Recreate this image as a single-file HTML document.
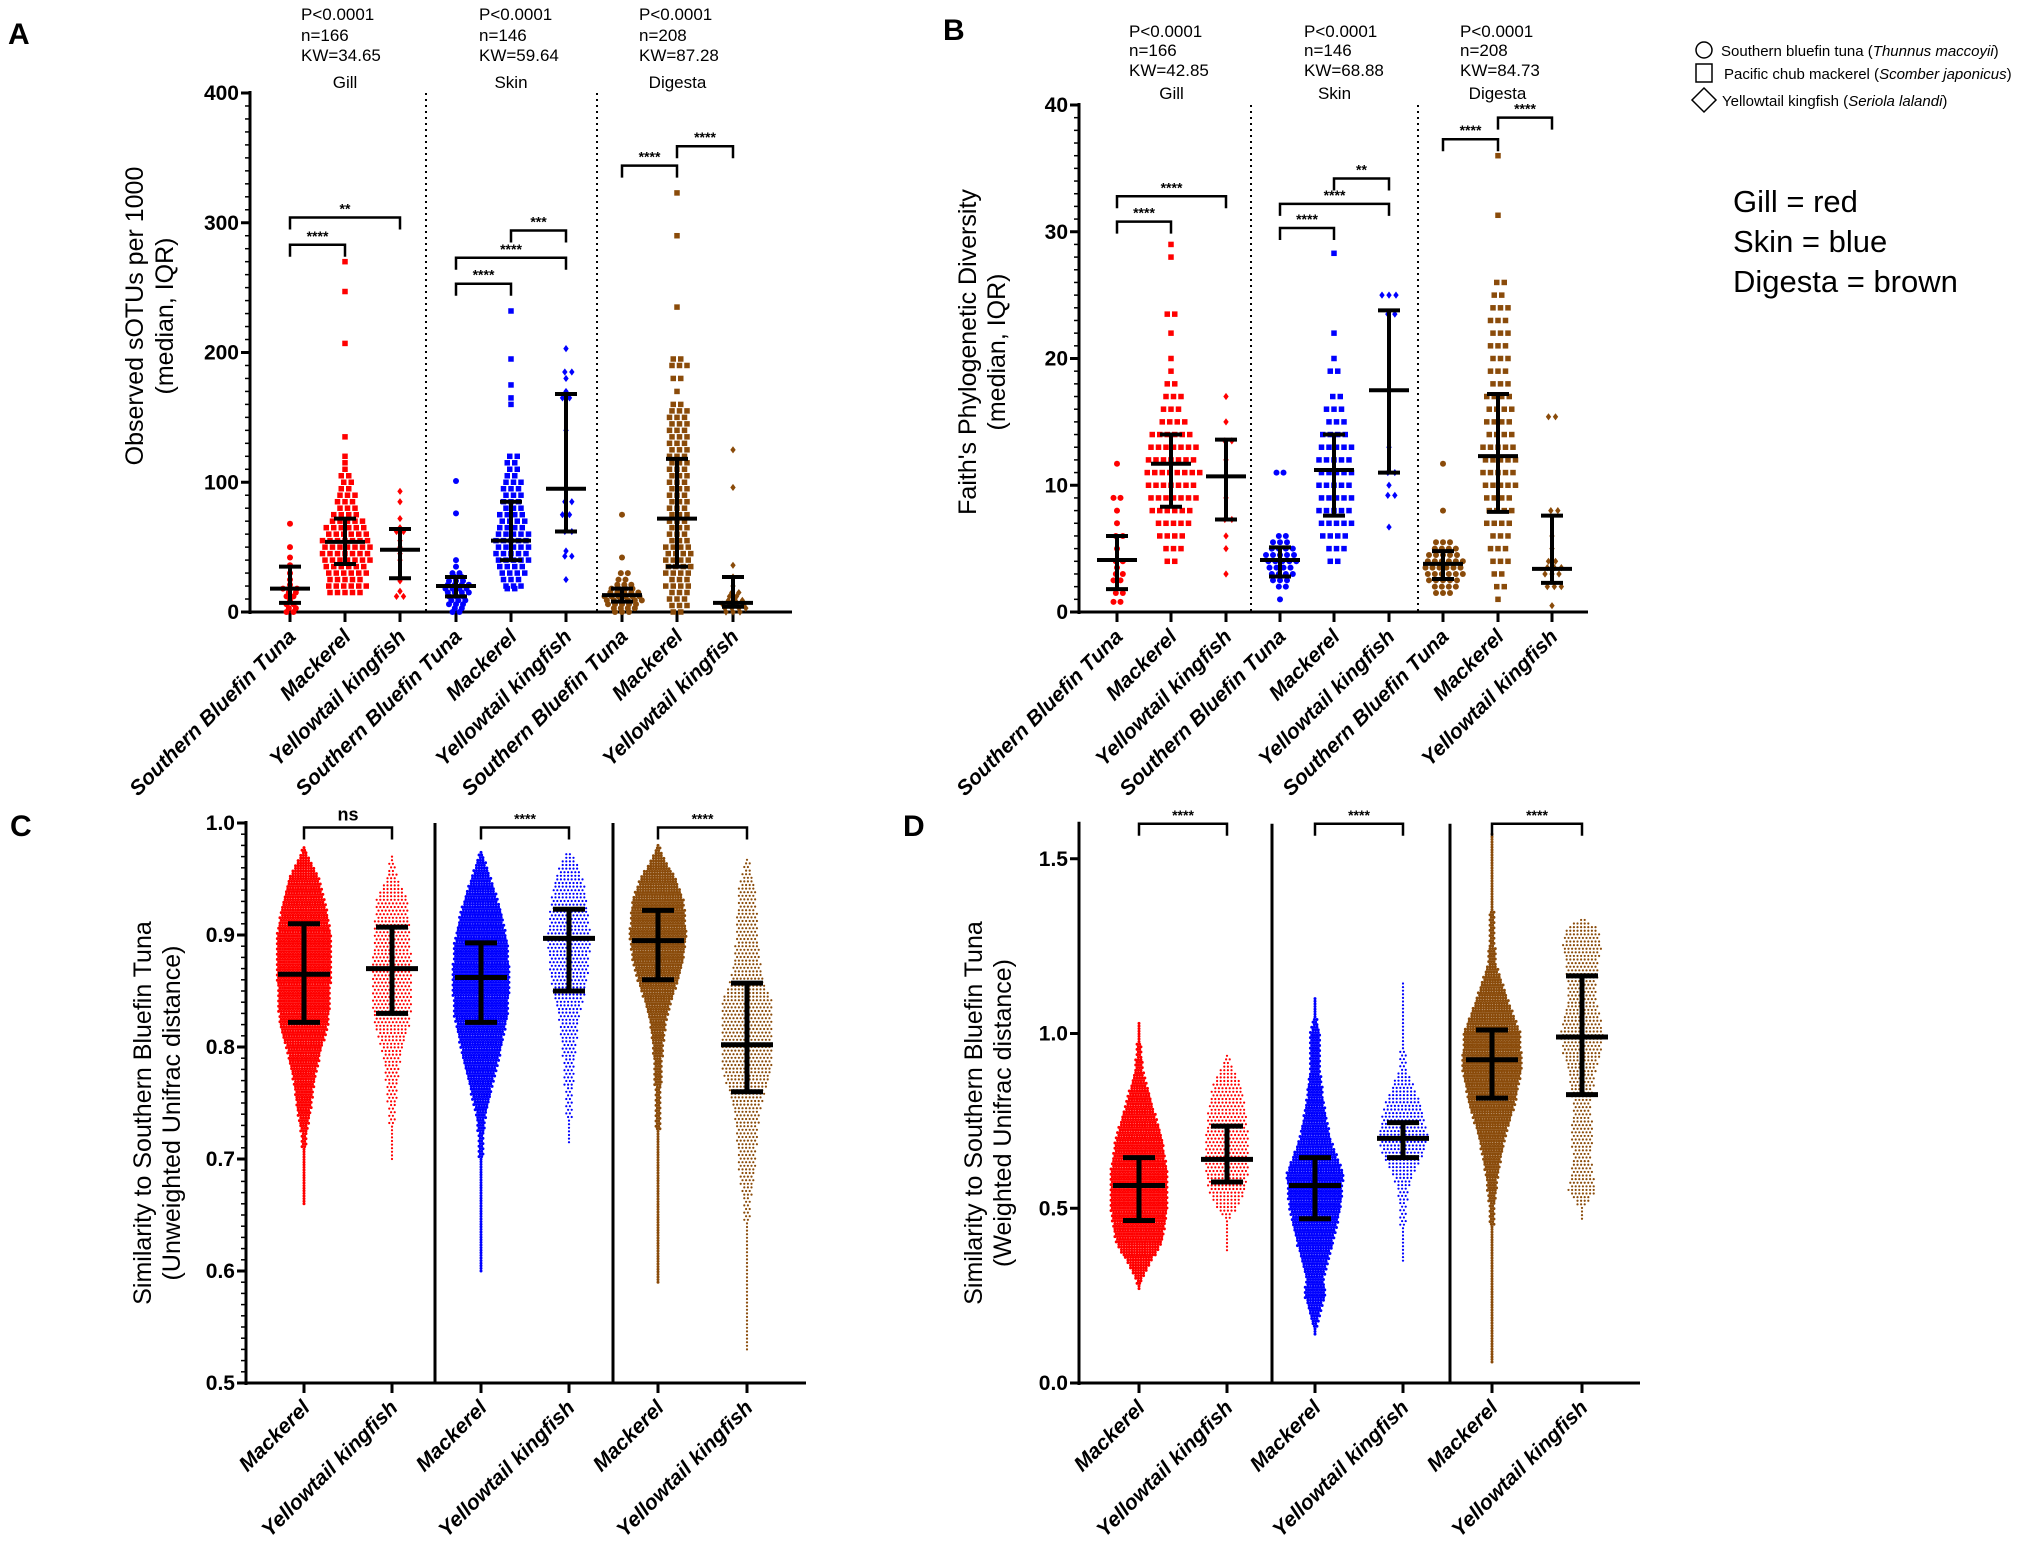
<!DOCTYPE html>
<html><head><meta charset="utf-8"><style>
body{margin:0;background:#fff}
svg{display:block}
text{font-family:"Liberation Sans Narrow","Liberation Sans",sans-serif}
.tk{font-weight:bold;font-size:21px}
.xl{font-weight:bold;font-style:italic;font-size:21px}
.st{font-size:17px}
.yt{font-family:"Liberation Sans",sans-serif;font-size:25px}
.pl{font-family:"Liberation Sans",sans-serif;font-weight:bold;font-size:30px}
</style></head><body>
<svg id="fig" width="2017" height="1547" viewBox="0 0 2017 1547" xmlns="http://www.w3.org/2000/svg">
<text class="pl" x="8" y="44">A</text>
<text class="pl" x="943" y="40">B</text>
<text class="pl" x="10" y="836">C</text>
<text class="pl" x="903" y="836">D</text>
<text class="yt" text-anchor="middle" transform="translate(143,316) rotate(-90)">Observed sOTUs per 1000</text>
<text class="yt" text-anchor="middle" transform="translate(173,316) rotate(-90)">(median, IQR)</text>
<text class="yt" text-anchor="middle" transform="translate(976,352) rotate(-90)">Faith's Phylogenetic Diversity</text>
<text class="yt" text-anchor="middle" transform="translate(1005,352) rotate(-90)">(median, IQR)</text>
<text class="yt" text-anchor="middle" transform="translate(151,1113) rotate(-90)">Similarity to Southern Bluefin Tuna</text>
<text class="yt" text-anchor="middle" transform="translate(180,1113) rotate(-90)">(Unweighted Unifrac distance)</text>
<text class="yt" text-anchor="middle" transform="translate(982,1113) rotate(-90)">Similarity to Southern Bluefin Tuna</text>
<text class="yt" text-anchor="middle" transform="translate(1011,1113) rotate(-90)">(Weighted Unifrac distance)</text>
<g>
<circle cx="1704" cy="50" r="8" fill="none" stroke="#000" stroke-width="1.5"/>
<text x="1721" y="56" style="font-size:15px">Southern bluefin tuna (<tspan font-style="italic">Thunnus maccoyii</tspan>)</text>
<rect x="1696" y="64" width="16" height="18" fill="none" stroke="#000" stroke-width="1.5"/>
<text x="1724" y="79" style="font-size:15px">Pacific chub mackerel (<tspan font-style="italic">Scomber japonicus</tspan>)</text>
<polygon points="1704,88 1716,100 1704,112 1692,100" fill="none" stroke="#000" stroke-width="1.5"/>
<text x="1722" y="106" style="font-size:15px">Yellowtail kingfish (<tspan font-style="italic">Seriola lalandi</tspan>)</text>
<text x="1733" y="212" style="font-family:'Liberation Sans',sans-serif;font-size:31px">Gill = red</text>
<text x="1733" y="252" style="font-family:'Liberation Sans',sans-serif;font-size:31px">Skin = blue</text>
<text x="1733" y="292" style="font-family:'Liberation Sans',sans-serif;font-size:31px">Digesta = brown</text>
</g>
</svg>
<script>
const NS="http://www.w3.org/2000/svg";
const svg=document.getElementById('fig');
function el(t,a,p){const e=document.createElementNS(NS,t);for(const k in a)e.setAttribute(k,a[k]);(p||svg).appendChild(e);return e;}
const RED="#ff0000",BLUE="#0000ff",BROWN="#8a4b0a";

// ---------- Panel A data ----------
const aCats=["Southern Bluefin Tuna","Mackerel","Yellowtail kingfish","Southern Bluefin Tuna","Mackerel","Yellowtail kingfish","Southern Bluefin Tuna","Mackerel","Yellowtail kingfish"];
const aTicks=[0,100,200,300,400];
const aMedian=[18,54,48,20,55,95,13,72,7];
const aQ1=[7,37,26,12,40,62,8,35,4];
const aQ3=[35,72,64,27,85,168,18,118,27];
const aVals=[
[0,3,6,9,12,15,18,21,25,30,36,42,50,68],
[15,20,25,30,35,40,45,50,55,60,65,70,75,80,85,90,95,100,105,110,115,120,135,207,247,270],
[12,16,24,27,40,45,50,55,62,65,72,85,93],
[0,3,6,9,12,15,18,21,24,27,30,35,40,76,101],
[18,20,25,30,35,40,45,50,55,60,65,70,75,80,85,90,95,100,105,110,115,120,160,165,175,195,232],
[25,43,47,62,75,85,95,140,165,170,180,185,203],
[0,3,6,9,12,15,18,21,25,30,42,75],
[0,5,10,15,20,25,30,35,40,45,50,55,60,65,70,75,80,85,90,95,100,105,110,115,120,125,130,135,140,145,150,155,160,170,180,190,195,235,290,323],
[0,3,6,9,12,15,20,27,36,96,125]];
const aCnts=[
[2,2,2,1,2,2,3,1,1,1,1,1,1,1],
[6,7,6,7,7,8,8,8,8,7,7,6,5,4,3,3,2,2,2,1,1,1,1,1,1,1],
[2,1,1,1,1,1,1,1,2,1,1,1,1],
[2,2,3,3,3,4,4,4,3,2,2,1,1,1,1],
[2,3,4,5,5,6,6,6,6,6,5,5,5,4,4,3,3,3,2,2,2,2,1,1,1,1,1],
[1,2,1,2,2,2,1,1,2,1,1,2,1],
[3,4,5,6,6,5,4,3,2,2,1,1],
[2,3,3,4,5,4,5,5,5,5,5,4,4,4,4,4,4,4,4,4,4,3,3,3,3,3,3,3,3,4,3,4,2,1,2,3,2,1,1,1],
[3,4,4,3,2,2,1,1,1,1,1]];
const aStats=[["P<0.0001","n=166","KW=34.65","Gill"],["P<0.0001","n=146","KW=59.64","Skin"],["P<0.0001","n=208","KW=87.28","Digesta"]];
const aBrackets=[[0,1,283,"****"],[0,2,304,"**"],[3,4,253,"****"],[3,5,273,"****"],[4,5,294,"***"],[6,7,344,"****"],[7,8,359,"****"]];

// ---------- Panel B data ----------
const bTicks=[0,10,20,30,40];
const bMedian=[4.1,11.7,10.7,4.1,11.2,17.5,3.8,12.3,3.4];
const bQ1=[1.8,8.3,7.3,2.8,7.6,11,2.6,7.9,2.3];
const bQ3=[6,14,13.6,5.1,14,23.8,4.8,17.2,7.6];
const bVals=[
[0.8,1.5,2.5,3,3.5,4,5,6,7,8,9,11.7],
[4,5,6,7,8,9,10,11,12,13,14,15,16,17,18,19,20,22,23.5,28,29],
[3,5,6,7.3,9,10.7,12,13.5,15,17],
[1,2,2.5,3,3.5,4,4.5,5,5.5,6,11],
[4,5,6,7,8,9,10,11,12,13,14,15,16,17,19,20,22,28.3],
[6.7,9.2,10,11,13,23.5,25],
[1.5,2,2.5,3,3.5,4,4.5,5,5.5,8,11.7],
[1,2,3,4,5,6,7,8,9,10,11,12,13,14,15,16,17,18,19,20,21,22,23,24,25,26,31.3,36],
[0.5,2,3,3.5,4,5,6,8,15.4]];
const bCnts=[
[2,2,2,2,1,2,1,2,1,1,2,1],
[2,4,5,6,7,8,8,9,8,8,7,5,4,3,2,1,1,1,2,1,1],
[1,1,1,2,1,1,1,2,1,1],
[1,2,3,4,4,5,5,4,3,2,2],
[2,3,5,6,6,6,6,6,6,6,5,4,3,2,2,1,1,1],
[1,2,1,2,1,2,3],
[3,4,5,6,6,6,5,4,3,1,1],
[1,2,2,3,3,4,5,5,5,6,6,6,6,5,5,5,5,4,4,4,3,3,3,3,2,2,1,1],
[1,3,3,3,2,1,1,2,2]];
const bStats=[["P<0.0001","n=166","KW=42.85","Gill"],["P<0.0001","n=146","KW=68.88","Skin"],["P<0.0001","n=208","KW=84.73","Digesta"]];
const bBrackets=[[0,1,30.8,"****"],[0,2,32.8,"****"],[3,4,30.3,"****"],[3,5,32.2,"****"],[4,5,34.2,"**"],[6,7,37.3,"****"],[7,8,39,"****"]];

// ---------- Panel C data ----------
const cdCats=["Mackerel","Yellowtail kingfish","Mackerel","Yellowtail kingfish","Mackerel","Yellowtail kingfish"];
const cTicks=[0.5,0.6,0.7,0.8,0.9,1.0];
const cMedian=[0.865,0.87,0.862,0.897,0.895,0.802];
const cQ1=[0.822,0.83,0.822,0.85,0.86,0.76];
const cQ3=[0.91,0.907,0.893,0.923,0.922,0.857];
const cVals=[
[0.66,0.70,0.72,0.74,0.76,0.78,0.80,0.82,0.84,0.87,0.90,0.92,0.95,0.97,0.98],
[0.70,0.72,0.74,0.76,0.78,0.80,0.82,0.84,0.87,0.90,0.93,0.95,0.97],
[0.60,0.66,0.68,0.72,0.74,0.76,0.78,0.80,0.83,0.86,0.89,0.92,0.95,0.97,0.975],
[0.715,0.72,0.75,0.78,0.80,0.83,0.85,0.87,0.90,0.93,0.95,0.97,0.975],
[0.59,0.65,0.70,0.75,0.78,0.80,0.82,0.84,0.86,0.88,0.90,0.93,0.95,0.97,0.98],
[0.53,0.55,0.60,0.63,0.66,0.68,0.70,0.72,0.74,0.76,0.78,0.80,0.82,0.84,0.86,0.88,0.90,0.94,0.96,0.97]];
const cCnts=[
[1,1,2,5,7,10,14,19,20,21,21,18,12,3,1],
[1,1,2,3,4,6,10,11,11,10,9,3,1],
[1,1,1,2,4,8,12,16,21,22,21,16,8,2,1],
[1,1,2,3,4,6,9,11,12,10,8,3,1],
[1,1,1,2,3,4,6,10,16,20,22,20,14,4,1],
[1,1,1,1,2,4,5,6,7,10,14,14,14,14,9,7,6,5,2,1]];
const cBrackets=[[0,1,0.996,"ns"],[2,3,0.996,"****"],[4,5,0.996,"****"]];

// ---------- Panel D data ----------
const dTicks=[0.0,0.5,1.0,1.5];
const dMedian=[0.565,0.64,0.565,0.70,0.925,0.99];
const dQ1=[0.465,0.575,0.47,0.645,0.815,0.825];
const dQ3=[0.645,0.735,0.645,0.745,1.01,1.165];
const dVals=[
[0.27,0.30,0.35,0.40,0.50,0.60,0.70,0.80,0.90,1.0,1.03],
[0.38,0.46,0.48,0.50,0.55,0.60,0.70,0.80,0.85,0.92,0.94],
[0.14,0.15,0.20,0.25,0.30,0.40,0.50,0.60,0.70,0.80,0.90,1.0,1.05,1.1],
[0.35,0.40,0.50,0.55,0.60,0.65,0.70,0.75,0.80,0.90,1.0,1.1,1.15],
[0.06,0.2,0.4,0.5,0.6,0.7,0.8,0.9,1.0,1.1,1.2,1.3,1.4,1.55,1.57],
[0.47,0.5,0.55,0.6,0.65,0.7,0.8,0.9,0.95,1.0,1.1,1.2,1.25,1.3,1.33]];
const dCnts=[
[1,3,10,18,22,22,18,10,3,1,1],
[1,1,3,6,10,12,12,10,8,2,1],
[1,1,4,8,7,14,20,22,12,7,4,4,1,1],
[1,1,2,3,6,11,14,12,10,2,1,1,1],
[1,1,1,2,5,10,18,23,22,12,3,2,1,1,1],
[1,1,8,6,5,6,5,8,11,12,8,9,11,9,1]];
const dBrackets=[[0,1,1.6,"****"],[2,3,1.6,"****"],[4,5,1.6,"****"]];

// ---------- helpers ----------
function axis(p){
  const g=el('g',{});
  
  
  el('line',{x1:p.x0,y1:p.y(p.top)-2,x2:p.x0,y2:p.y(p.min)+2,stroke:'#000','stroke-width':3},g);
  el('line',{x1:p.x0-2,y1:p.y(p.min),x2:p.xend,y2:p.y(p.min),stroke:'#000','stroke-width':3},g);
  if(p.minor){for(let v=p.min;v<=p.top+1e-9;v+=p.minor){el('line',{x1:p.x0-5,y1:p.y(v),x2:p.x0,y2:p.y(v),stroke:'#000','stroke-width':1.5},g);}}
  p.ticks.forEach(v=>{
    el('line',{x1:p.x0-9,y1:p.y(v),x2:p.x0,y2:p.y(v),stroke:'#000','stroke-width':3},g);
    const t=el('text',{class:'tk',x:p.x0-11,y:p.y(v)+7,'text-anchor':'end'},g);
    t.textContent=p.fmt(v);
    
    
  });
  p.cats.forEach((c,i)=>{
    const x=p.xs[i];
    el('line',{x1:x,y1:p.y(p.min),x2:x,y2:p.y(p.min)+10,stroke:'#000','stroke-width':3},g);
    const t=el('text',{class:'xl','text-anchor':'end',transform:`translate(${x+7},${p.y(p.min)+26}) rotate(-45)`},g);
    t.textContent=c;
    
    
  });
  p.divs.forEach(x=>{
    el('line',{x1:x,y1:p.y(p.top),x2:x,y2:p.y(p.min),stroke:'#000','stroke-width':p.dotted?2:3,'stroke-dasharray':p.dotted?'2,4':'none'},g);
  });
}
function marker(g,shape,x,y,s,col){
  let m;
  if(shape==='c')m=el('circle',{cx:x,cy:y,r:s/2,fill:col},g);
  else if(shape==='s')m=el('rect',{x:x-s/2,y:y-s/2,width:s,height:s,fill:col},g);
  else m=el('polygon',{points:`${x},${y-s*0.6} ${x+s*0.45},${y} ${x},${y+s*0.6} ${x-s*0.45},${y}`,fill:col},g);
  
  
}
function sparse(p,i,vals,cnts,shape,col,s,sp,thin){
  const g=el('g',{});
  
  
  vals.forEach((v,k)=>{const n=thin?Math.max(1,Math.round(cnts[k]*0.85)):cnts[k];for(let j=0;j<n;j++){marker(g,shape,p.xs[i]+(j-(n-1)/2)*sp+((k%2)&&n>1?sp/3:0),p.y(v),s,col);}});
}
function dense(p,i,vals,cnts,col,r,sp){
  const g=el('g',{});
  
  
  const yTop=p.y(vals[vals.length-1]),yBot=p.y(vals[0]);
  let row=0;
  for(let yy=yBot;yy>=yTop-0.1;yy-=sp){
    const v=p.inv(yy);
    let k=0;while(k<vals.length-2&&vals[k+1]<v)k++;
    const f=Math.max(0,Math.min(1,(v-vals[k])/(vals[k+1]-vals[k]||1)));
    const n=Math.max(1,Math.round(cnts[k]+(cnts[k+1]-cnts[k])*f));
    const off=(row%2)*sp/2;
    for(let j=0;j<n;j++){
      const c=el('circle',{cx:p.xs[i]+(j-(n-1)/2)*sp+(n>1?off-sp/4:0),cy:yy,r:r,fill:col},g);
      
      
    }
    row++;
  }
}
function errbar(p,i,med,q1,q3,mw,qw,sw){
  const g=el('g',{});
  
  
  const x=p.xs[i];
  el('line',{x1:x,y1:p.y(q1),x2:x,y2:p.y(q3),stroke:'#000','stroke-width':sw},g);
  el('line',{x1:x-qw/2,y1:p.y(q1),x2:x+qw/2,y2:p.y(q1),stroke:'#000','stroke-width':sw},g);
  el('line',{x1:x-qw/2,y1:p.y(q3),x2:x+qw/2,y2:p.y(q3),stroke:'#000','stroke-width':sw},g);
  el('line',{x1:x-mw/2,y1:p.y(med),x2:x+mw/2,y2:p.y(med),stroke:'#000','stroke-width':sw},g);
}
function bracket(p,b,leg){
  const g=el('g',{});
  
  
  const x1=p.xs[b[0]],x2=p.xs[b[1]],y=p.y(b[2]);
  el('polyline',{points:`${x1},${y+leg} ${x1},${y} ${x2},${y} ${x2},${y+leg}`,fill:'none',stroke:'#000','stroke-width':2.5},g);
  const t=el('text',{x:(x1+x2)/2,y:y-(b[3]==='ns'?7:4),'text-anchor':'middle',style:'font-size:'+(b[3]==='ns'?'18px':'14px')+';font-weight:bold'},g);
  t.textContent=b[3];
}
function stats(p,list,xs,ys){
  list.forEach((s,k)=>{
    for(let j=0;j<3;j++){const t=el('text',{class:'st',x:xs[k],y:ys[j]});t.textContent=s[j];
      
      }
    const t=el('text',{class:'st',x:(p.xs[k*3]+p.xs[k*3+2])/2,y:ys[3],'text-anchor':'middle'});t.textContent=s[3];
    
    
  });
}
const tcols=[RED,RED,RED,BLUE,BLUE,BLUE,BROWN,BROWN,BROWN];
const shapes=['c','s','d','c','s','d','c','s','d'];
const cdcols=[RED,RED,BLUE,BLUE,BROWN,BROWN];

// Panel A
const pA={name:'panel-a',x0:250,xend:792,min:0,top:400,minor:10,ticks:aTicks,fmt:v=>String(v),cats:aCats,
  xs:[290,345,400,456,511,566,622,677,733],divs:[426,597],dotted:true,
  y:v=>612-v*(519/400),inv:yy=>(612-yy)/(519/400)};
axis(pA);
aVals.forEach((v,i)=>sparse(pA,i,v,aCnts[i],shapes[i],tcols[i],i%3===1?5.5:6,i%3===1?7.5:7,i%3===1));
aMedian.forEach((m,i)=>errbar(pA,i,m,aQ1[i],aQ3[i],40,22,4));
aBrackets.forEach(b=>bracket(pA,b,12));
stats(pA,aStats,[301,479,639],[20,41,61,88]);

// Panel B
const pB={name:'panel-b',x0:1079,xend:1588,min:0,top:40,minor:1,ticks:bTicks,fmt:v=>String(v),cats:aCats,
  xs:[1117,1171,1226,1280,1334,1389,1443,1498,1552],divs:[1251,1418],dotted:true,
  y:v=>612-v*(507/40),inv:yy=>(612-yy)/(507/40)};
axis(pB);
bVals.forEach((v,i)=>sparse(pB,i,v,bCnts[i],shapes[i],tcols[i],i%3===1?5.5:6,i%3===1?7.5:7,i%3===1));
bMedian.forEach((m,i)=>errbar(pB,i,m,bQ1[i],bQ3[i],40,22,4));
bBrackets.forEach(b=>bracket(pB,b,12));
stats(pB,bStats,[1129,1304,1460],[37,56,76,99]);

// Panel C
const pC={name:'panel-c',x0:246,xend:806,min:0.5,top:1.0,minor:0.01,ticks:cTicks,fmt:v=>v.toFixed(1),cats:cdCats,
  xs:[304,392,481,569,658,747],divs:[435,613],dotted:false,
  y:v=>1383-(v-0.5)*1120,inv:yy=>0.5+(1383-yy)/1120};
axis(pC);
cVals.forEach((v,i)=>dense(pC,i,v,cCnts[i],cdcols[i],i%2?1.1:1.5,i%2?3.6:2.6));
cMedian.forEach((m,i)=>errbar(pC,i,m,cQ1[i],cQ3[i],52,32,5));
cBrackets.forEach(b=>bracket(pC,b,12));

// Panel D
const pD={name:'panel-d',x0:1079,xend:1640,min:0,top:1.6,minor:0,ticks:dTicks,fmt:v=>v.toFixed(1),cats:cdCats,
  xs:[1139,1227,1315,1403,1492,1582],divs:[1272,1450],dotted:false,
  y:v=>1383-v*349.5,inv:yy=>(1383-yy)/349.5};
axis(pD);
dVals.forEach((v,i)=>dense(pD,i,v,dCnts[i],cdcols[i],i%2?1.1:1.5,i%2?3.6:2.6));
dMedian.forEach((m,i)=>errbar(pD,i,m,dQ1[i],dQ3[i],52,32,5));
dBrackets.forEach(b=>bracket(pD,b,12));
</script>
</body></html>
